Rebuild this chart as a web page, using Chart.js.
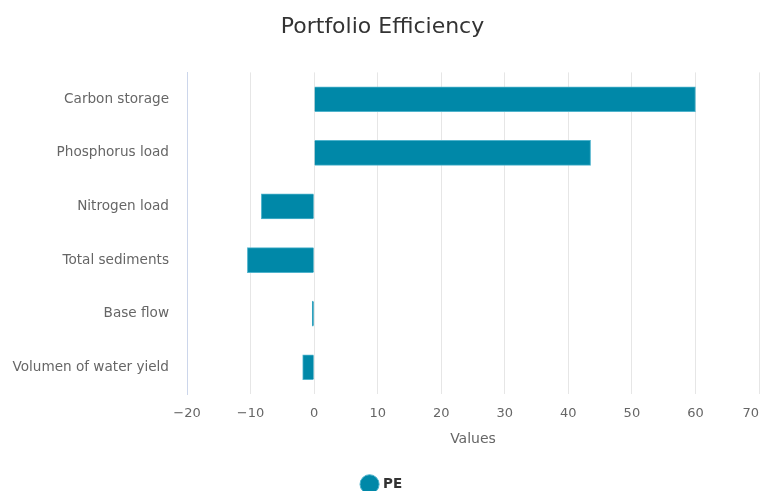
<!DOCTYPE html>
<html>
<head>
<meta charset="utf-8">
<script src="https://cdn.jsdelivr.net/npm/chart.js@4"></script>
<style>
  html, body { margin: 0; padding: 0; background: #fff; }
  #wrap { width: 761px; height: 491px; }
</style>
</head>
<body>
<div id="wrap"><canvas id="myChart" width="761" height="491"></canvas></div>
<script>
var categories = ["Carbon storage", "Phosphorus load", "Nitrogen load", "Total sediments", "Base flow", "Volumen of water yield"];
var peValues = [60, 43.5, -8.3, -10.5, -0.3, -1.8];
var xTicks = [-20, -10, 0, 10, 20, 30, 40, 50, 60, 70];

var font = "'DejaVu Sans', sans-serif";

function renderChart() {
    var ctx = document.getElementById("myChart").getContext('2d');
    var myChart = new Chart(ctx, {
        type: 'bar',
        data: {
            labels: categories,
            datasets: [{
                label: 'PE',
                data: peValues,
                backgroundColor: '#0088a8',
                borderColor: '#4fb3cc',
                borderWidth: 1,
                barThickness: 25
            }]
        },
        options: {
            indexAxis: 'y',
            responsive: false,
            animation: false,
            layout: { padding: { left: 4, right: 0, top: 0, bottom: -10 } },
            plugins: {
                title: {
                    display: true,
                    text: 'Portfolio Efficiency',
                    color: '#333333',
                    font: { family: font, size: 22, weight: 'normal' },
                    padding: { top: 14, bottom: 32 }
                },
                legend: {
                    position: 'bottom',
                    labels: {
                        usePointStyle: true,
                        pointStyle: 'circle',
                        boxWidth: 14,
                        boxHeight: 14,
                        color: '#333333',
                        font: { family: font, size: 13.5, weight: 'bold' },
                        padding: 10
                    }
                },
                tooltip: { enabled: false }
            },
            scales: {
                x: {
                    min: -20,
                    max: 70,
                    afterBuildTicks: function (axis) {
                        axis.ticks = xTicks.map(function (v) { return { value: v }; });
                    },
                    afterFit: function (axis) {
                        axis.paddingRight = 2;
                    },
                    ticks: {
                        color: '#666666',
                        font: { family: font, size: 13 },
                        padding: 12,
                        callback: function (v) {
                            var s = String(v).replace('-', '\u2212');
                            // last label sits at the canvas edge, push it inwards
                            if (v === xTicks[xTicks.length - 1]) s = s + '    ';
                            return s;
                        }
                    },
                    grid: { color: '#e6e6e6', drawTicks: false },
                    border: { display: false },
                    title: {
                        display: true,
                        text: 'Values',
                        color: '#666666',
                        font: { family: font, size: 14 },
                        padding: { top: -3, bottom: 20 }
                    }
                },
                y: {
                    afterFit: function (axis) {
                        axis.width = 183;
                    },
                    ticks: {
                        color: '#666666',
                        font: { family: font, size: 13.6 },
                        padding: 18
                    },
                    grid: { display: false, drawTicks: false },
                    border: { display: true, color: '#ccd6eb' }
                }
            }
        }
    });
}

renderChart();
</script>
</body>
</html>
